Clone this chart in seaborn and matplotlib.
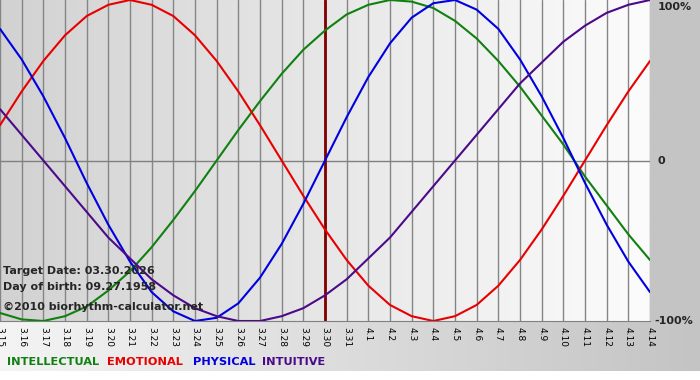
import matplotlib
matplotlib.use("Agg")
import matplotlib.pyplot as plt
import numpy as np
import pandas as pd
import seaborn as sns
from matplotlib.colors import LinearSegmentedColormap
from matplotlib.patches import Rectangle

sns.set_style("white")
plt.rcParams["font.family"] = ["DejaVu Sans"]

# dates shown on the x axis (03.15 .. 04.14)
dates = ["3.15", "3.16", "3.17", "3.18", "3.19", "3.20", "3.21", "3.22",
         "3.23", "3.24", "3.25", "3.26", "3.27", "3.28", "3.29", "3.30",
         "3.31", "4.1", "4.2", "4.3", "4.4", "4.5", "4.6", "4.7", "4.8",
         "4.9", "4.10", "4.11", "4.12", "4.13", "4.14"]
target_date = "3.30"

# cycle values, one per day
intellectual = [-0.95, -0.99, -1.00, -0.97, -0.91, -0.81, -0.69, -0.54,
                -0.37, -0.19, 0.00, 0.19, 0.37, 0.54, 0.69, 0.81, 0.91,
                0.97, 1.00, 0.99, 0.95, 0.87, 0.76, 0.62, 0.46, 0.28,
                0.10, -0.10, -0.28, -0.46, -0.62]
emotional = [0.22, 0.43, 0.62, 0.78, 0.90, 0.97, 1.00, 0.97, 0.90, 0.78,
             0.62, 0.43, 0.22, 0.00, -0.22, -0.43, -0.62, -0.78, -0.90,
             -0.97, -1.00, -0.97, -0.90, -0.78, -0.62, -0.43, -0.22, 0.00,
             0.22, 0.43, 0.62]
physical = [0.82, 0.63, 0.40, 0.14, -0.14, -0.40, -0.63, -0.82, -0.94,
            -1.00, -0.98, -0.89, -0.73, -0.52, -0.27, 0.00, 0.27, 0.52,
            0.73, 0.89, 0.98, 1.00, 0.94, 0.82, 0.63, 0.40, 0.14, -0.14,
            -0.40, -0.63, -0.82]
intuitive = [0.32, 0.16, 0.00, -0.16, -0.32, -0.48, -0.61, -0.74, -0.84,
             -0.92, -0.97, -1.00, -1.00, -0.97, -0.92, -0.84, -0.74, -0.61,
             -0.48, -0.32, -0.16, 0.00, 0.16, 0.32, 0.48, 0.61, 0.74, 0.84,
             0.92, 0.97, 1.00]

cycles = ["INTELLECTUAL", "EMOTIONAL", "PHYSICAL", "INTUITIVE"]
colors = {"INTELLECTUAL": "#108010", "EMOTIONAL": "#e80000",
          "PHYSICAL": "#0000e0", "INTUITIVE": "#4b0a8a"}

info_lines = ["Target Date: 03.30.2026", "Day of birth: 09.27.1958",
              "\u00a92010 biorhythm-calculator.net"]

day = np.arange(len(dates))
df = pd.concat(
    [pd.DataFrame({"day": day, "value": vals, "cycle": name})
     for name, vals in zip(cycles, [intellectual, emotional, physical, intuitive])],
    ignore_index=True,
)

W, H = 700, 380
plot_r, plot_b = 650, 321
fig = plt.figure(figsize=(W / 100, H / 100), dpi=100)
fig.patch.set_facecolor("white")

# background: bottom band, right panel
bg = fig.add_axes([0, 0, 1, 1], zorder=0)
bg.set_xlim(0, W)
bg.set_ylim(H, 0)
bg.axis("off")
band = LinearSegmentedColormap.from_list("band", ["#f4f4f4", "#c4c4c4"])
bg.imshow(np.linspace(0, 1, 256)[None, :], cmap=band, aspect="auto",
          extent=[0, W, 371, plot_b], zorder=0)
bg.add_patch(Rectangle((plot_r, 0), W - plot_r, plot_b, color="#c4c4c4", zorder=1))

# main plot area
ax = fig.add_axes([0, 1 - plot_b / H, plot_r / W, plot_b / H], zorder=1)
shade = LinearSegmentedColormap.from_list("shade", ["#d2d2d2", "#fcfcfc"])
ax.imshow(np.linspace(0, 1, 256)[None, :], cmap=shade, aspect="auto",
          extent=[0, len(dates) - 1, -1, 1], zorder=0)

ax.axvline(dates.index(target_date), color="#800000", lw=2, zorder=2)
ax.axhline(0, color="#808080", lw=1, zorder=1)
sns.lineplot(data=df, x="day", y="value", hue="cycle", hue_order=cycles,
             palette=colors, linewidth=1.5, legend=False, ax=ax, zorder=3)

ax.set_xlim(0, len(dates) - 1)
ax.set_ylim(-1, 1)
ax.set_xticks(day)
ax.set_xticklabels(dates, rotation=270, fontsize=6.5)
ax.set_yticks([])
ax.tick_params(axis="x", length=3, pad=1, color="#808080", colors="black")
ax.grid(axis="x", color="#858585", lw=1, zorder=1)
ax.set_axisbelow(True)
ax.set_xlabel("")
ax.set_ylabel("")
for side in ["top", "left", "right"]:
    ax.spines[side].set_visible(False)
ax.spines["bottom"].set_color("#808080")
ax.patch.set_alpha(0)

# right side percent labels
for lab, yy, x0 in [("100%", 7, 658), ("0", 161, 657), ("-100%", 321, 654)]:
    bg.text(x0, yy, lab, fontsize=8, fontweight="bold", va="center", ha="left")

# info text in the lower left of the plot
for txt, yy in zip(info_lines, [271, 287, 307]):
    ax.text(3 / plot_r, 1 - yy / plot_b, txt, transform=ax.transAxes,
            fontsize=8, fontweight="bold", va="center", zorder=5)

# legend row
for name, x0 in zip(cycles, [7, 107, 193, 262]):
    bg.text(x0, 362, name, color=colors[name], fontsize=8.2,
            fontweight="bold", va="center", ha="left")

fig.savefig("out.png", dpi=100)
